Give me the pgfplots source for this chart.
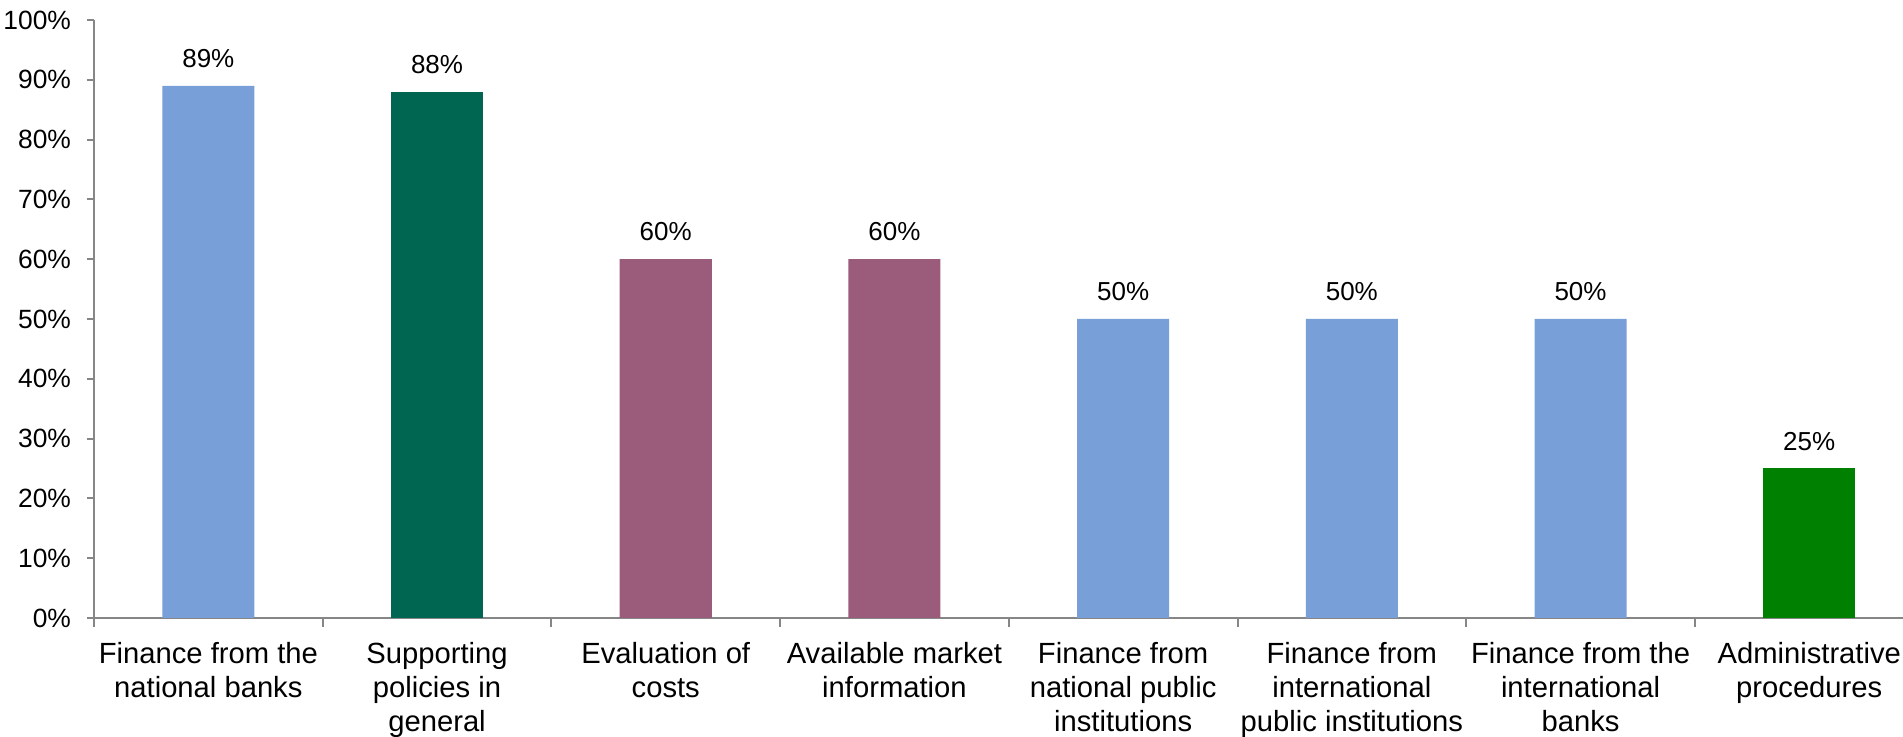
\documentclass[border=0pt]{standalone}
\usepackage{pgfplots}
\pgfplotsset{compat=1.18}
\usepackage{fontspec}
\setmainfont{Liberation Sans}
\definecolor{axgray}{RGB}{134,134,134}
\definecolor{cblue}{RGB}{120,159,216}
\definecolor{cdgreen}{RGB}{0,102,81}
\definecolor{cpurple}{RGB}{155,91,122}
\definecolor{cgreen}{RGB}{0,128,0}
\begin{document}
\begin{tikzpicture}
\begin{axis}[name=ax, scale only axis, width=904.5pt, height=299pt,
  xmin=-0.5, xmax=7.41, ymin=0, ymax=100,
  axis x line*=bottom, axis y line*=left,
  axis line style={axgray, line width=1pt, -},
  ytick={0,10,...,100},
  yticklabels={0\%,10\%,20\%,30\%,40\%,50\%,60\%,70\%,80\%,90\%,100\%},
  xtick={0,...,7},
  xticklabels={{Finance from the\\national banks},{Supporting\\policies in\\general},{Evaluation of\\costs},{Available market\\information},{Finance from\\national public\\institutions},{Finance from\\international\\public institutions},{Finance from the\\international\\banks},{Administrative\\procedures}},
  minor xtick={-0.5,0.5,...,7.5},
  tick align=outside,
  major x tick style={draw=none},
  minor tick length=4.5pt, major tick length=3.5pt,
  tick style={axgray, line width=1pt},
  x tick label style={align=center, font=\fontsize{14.6}{17}\selectfont, anchor=north, yshift=-5pt},
  y tick label style={font=\fontsize{13.2}{16}\selectfont, xshift=-4.5pt},
  ybar, bar width=46pt, bar shift=0pt,
  nodes near coords={\pgfmathprintnumber[assume math mode=true]{\pgfplotspointmeta}\%},
  every node near coord/.append style={font=\fontsize{13}{16}\selectfont, text=black, yshift=5.5pt},
  clip=false,
]
\addplot[fill=cblue, draw=none] coordinates {(0,89) (4,50) (5,50) (6,50)};
\addplot[fill=cdgreen, draw=none] coordinates {(1,88)};
\addplot[fill=cpurple, draw=none] coordinates {(2,60) (3,60)};
\addplot[fill=cgreen, draw=none] coordinates {(7,25)};
\end{axis}
\pgfresetboundingbox
\path ([xshift=-47pt,yshift=-59.5pt]ax.south west) rectangle ([yshift=10pt]ax.north east);
\end{tikzpicture}
\end{document}
